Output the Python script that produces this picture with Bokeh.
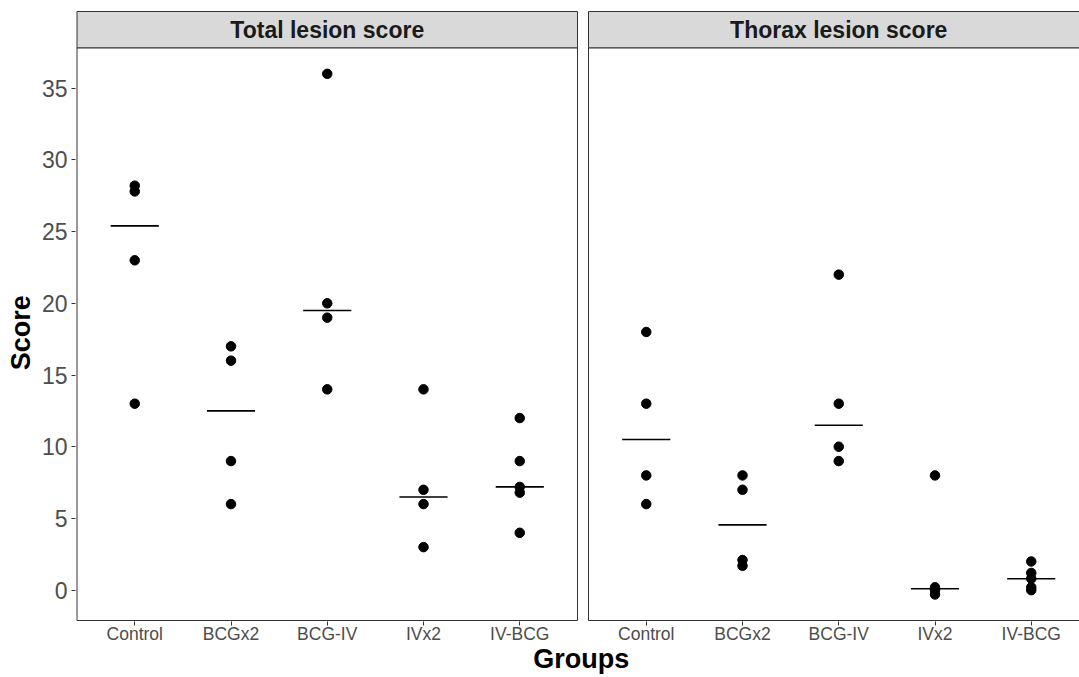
import numpy as np
from bokeh.plotting import figure
from bokeh.models import Range1d, FixedTicker, CustomJSTickFormatter, Label
from bokeh.embed import file_html
from bokeh.resources import INLINE

# ---------------- data ----------------
groups = ["Control", "BCGx2", "BCG-IV", "IVx2", "IV-BCG"]
panel_titles = ["Total lesion score", "Thorax lesion score"]

total_control = [28.2, 27.8, 23, 13]
total_bcgx2 = [17, 16, 9, 6]
total_bcgiv = [36, 20, 19, 14]
total_ivx2 = [14, 7, 6, 3]
total_ivbcg = [12, 9, 7.2, 6.8, 4]

thorax_control = [18, 13, 8, 6]
thorax_bcgx2 = [8, 7, 2.1, 1.7]
thorax_bcgiv = [22, 13, 10, 9]
thorax_ivx2 = [8, 0.2, 0.0, -0.3]
thorax_ivbcg = [2, 1.2, 0.8, 0.2, 0.0]

y_ticks = [0, 5, 10, 15, 20, 25, 30, 35]

panel_data = [
    [total_control, total_bcgx2, total_bcgiv, total_ivx2, total_ivbcg],
    [thorax_control, thorax_bcgx2, thorax_bcgiv, thorax_ivx2, thorax_ivbcg],
]

# ---------------- layout ----------------
W, H = 1079, 677
FL, FT, FB = 75, 6, 621
unit_px = 96.25
panel_left_px = 76.5
gap_units = 11 / unit_px
off = 5.2 + gap_units
x_start = 0.4 - (panel_left_px - FL) / unit_px
x_end = x_start + (W - FL) / unit_px

all_vals = [v for pnl in panel_data for grp in pnl for v in grp]
dmin, dmax = min(all_vals), max(all_vals)
ylo = dmin - 0.05 * (dmax - dmin)
yhi = dmax + 0.05 * (dmax - dmin)
panel_top_px, panel_bot_px, strip_top_px = 47.3, 620.0, 11.0
s = (panel_bot_px - panel_top_px) / (yhi - ylo)
strip_top = yhi + (panel_top_px - strip_top_px) / s
y_start = ylo - (FB - panel_bot_px) / s
y_end = yhi + (panel_top_px - FT) / s

p = figure(width=W, height=H, output_backend="svg", toolbar_location=None,
           x_range=Range1d(x_start, x_end), y_range=Range1d(y_start, y_end),
           min_border_left=FL, min_border_right=0, min_border_top=FT,
           min_border_bottom=H - FB)
p.outline_line_color = None
p.grid.visible = False
p.background_fill_color = "white"
p.border_fill_color = "white"

offsets = [0.0, off]
# panels
p.quad(left=[0.4 + o for o in offsets], right=[5.6 + o for o in offsets],
       bottom=[ylo] * 2, top=[yhi] * 2, fill_color="white",
       line_color="#333333", line_width=1)
# strips
p.quad(left=[0.4 + o for o in offsets], right=[5.6 + o for o in offsets],
       bottom=[yhi] * 2, top=[strip_top] * 2, fill_color="#D9D9D9",
       line_color="#333333", line_width=1)

xs, ys, mx0, mx1, my = [], [], [], [], []
for pi, pnl in enumerate(panel_data):
    for gi, vals in enumerate(pnl):
        xpos = gi + 1 + offsets[pi]
        xs += [xpos] * len(vals)
        ys += list(vals)
        med = float(np.median(vals))
        mx0.append(xpos - 0.25)
        mx1.append(xpos + 0.25)
        my.append(med)

p.segment(x0=mx0, x1=mx1, y0=my, y1=my, line_color="black", line_width=1.6)
p.scatter(x=xs, y=ys, size=9.5, fill_color="black", line_color="black")

for pi, title in enumerate(panel_titles):
    p.add_layout(Label(x=3.0 + offsets[pi], y=(yhi + strip_top) / 2, text=title,
                       text_align="center", text_baseline="middle",
                       text_font="Liberation Sans", text_font_size="23px",
                       text_font_style="bold", text_color="#1A1A1A"))

# x axis
xt = [g + 1 + o for o in offsets for g in range(len(groups))]
p.xaxis.ticker = FixedTicker(ticks=xt, minor_ticks=[])
p.xaxis.formatter = CustomJSTickFormatter(args=dict(labels=groups),
                                          code="return labels[index % labels.length];")
# y axis
p.yaxis.ticker = FixedTicker(ticks=y_ticks, minor_ticks=[])

# non-breaking spaces shift the centred titles onto the panels' centres
p.xaxis.axis_label = "\u00a0Groups"
p.yaxis.axis_label = "Score" + "\u00a0" * 5

for ax in [p.xaxis[0], p.yaxis[0]]:
    ax.axis_line_color = None
    ax.major_tick_line_color = "#333333"
    ax.major_tick_out = 4
    ax.major_tick_in = 0
    ax.minor_tick_line_color = None
    ax.major_label_text_font = "Liberation Sans"
    ax.major_label_text_color = "#4D4D4D"
    ax.axis_label_text_font = "Liberation Sans"
    ax.axis_label_text_font_style = "bold"
    ax.axis_label_text_font_size = "27px"
    ax.axis_label_text_color = "black"

p.xaxis.major_label_text_font_size = "17.5px"
p.xaxis.major_label_standoff = -2
p.xaxis.axis_label_standoff = -3
p.yaxis.major_label_text_font_size = "23px"
p.yaxis.major_label_standoff = 4
p.yaxis.axis_label_standoff = 3

open("out.html", "w").write(file_html(p, INLINE))
